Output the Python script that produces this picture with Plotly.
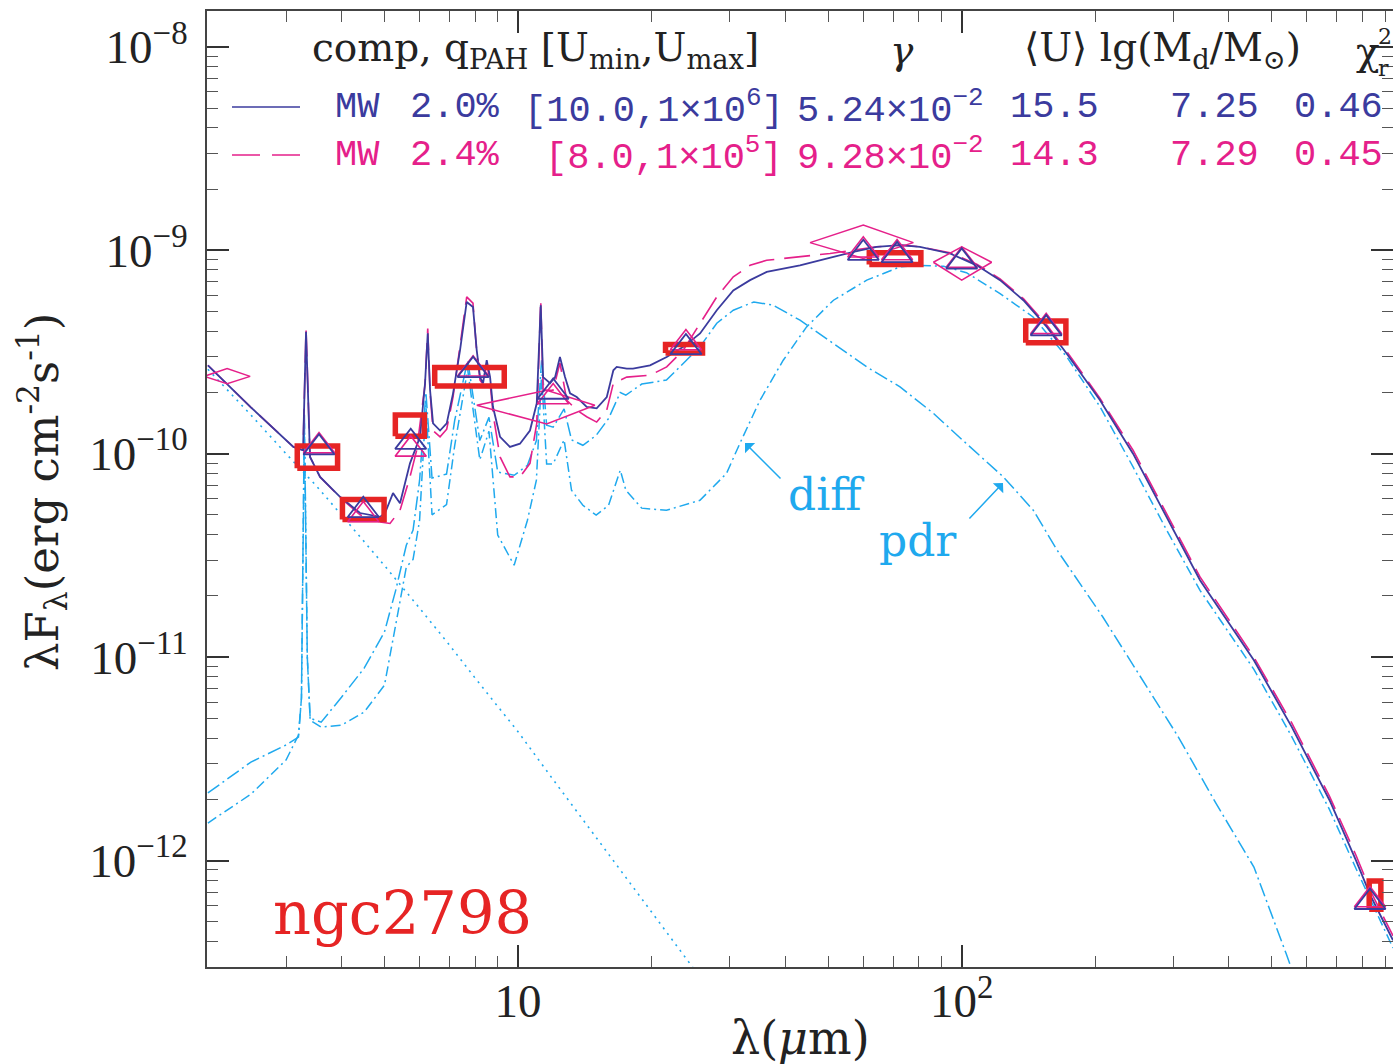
import plotly.graph_objects as go

# ---------------- data ----------------
# total model 1 (MW, q_PAH 2.0%)
wl_blue = [2.0, 2.5, 3.116, 3.277, 3.328, 3.398, 3.579, 3.97, 4.405, 4.887, 5.015, 5.227, 5.42, 5.708,
           6.014, 6.172, 6.259, 6.335, 6.434, 6.672, 6.907, 7.138, 7.401, 7.662, 7.915, 8.07, 8.21, 8.34,
           8.50, 8.65, 8.78, 9.11, 9.59, 10.1, 10.64, 11.02, 11.25, 11.39, 11.81, 12.12, 12.43, 12.76,
           13.1, 13.56, 14.28, 15.04, 15.85, 16.4, 16.69, 17.58, 18.16, 19.84, 21.63, 23.58, 25.72,
           28.05, 30.56, 33.34, 36.35, 43.2, 51.4, 57.0, 64.3, 72.6, 80.5, 94.1, 108.1, 122, 137.7,
           155.5, 172.5, 205, 243.3, 289.7, 344.4, 455.5, 554.3, 674.5, 774.1, 836.6, 937.7]
flux_blue = [2.72e-10, 1.69e-10, 1.08e-10, 1.04e-10, 3.97e-10, 9.64e-11, 7.69e-11, 6.14e-11, 5.11e-11,
             4.89e-11, 5.11e-11, 6.40e-11, 5.71e-11, 8.97e-11, 1.21e-10, 2.22e-10, 3.91e-10, 2.05e-10,
             1.41e-10, 1.30e-10, 1.41e-10, 1.98e-10, 3.23e-10, 5.57e-10, 5.26e-10, 3.23e-10, 2.38e-10,
             2.22e-10, 2.88e-10, 2.38e-10, 1.70e-10, 1.21e-10, 1.08e-10, 1.12e-10, 1.30e-10, 1.77e-10,
             5.37e-10, 2.38e-10, 2.22e-10, 2.38e-10, 2.99e-10, 2.38e-10, 1.98e-10, 1.90e-10, 1.70e-10,
             1.67e-10, 1.90e-10, 2.57e-10, 2.67e-10, 2.62e-10, 2.62e-10, 2.72e-10, 2.99e-10, 3.35e-10,
             3.90e-10, 5.07e-10, 6.35e-10, 7.13e-10, 7.82e-10, 8.43e-10, 9.27e-10, 9.82e-10, 1.04e-9,
             1.06e-9, 1.04e-9, 9.64e-10, 8.43e-10, 7.13e-10, 5.68e-10, 4.20e-10, 3.10e-10, 1.83e-10,
             1.00e-10, 4.89e-11, 2.39e-11, 9.66e-12, 4.54e-12, 1.98e-12, 1.00e-12, 6.64e-13, 4.06e-13]

# total model 2 (MW, q_PAH 2.4%)
wl_pink = [2.0, 2.5, 3.116, 3.277, 3.328, 3.398, 3.579, 3.97, 4.405, 4.887, 5.146, 5.42, 5.708, 5.91,
           6.172, 6.259, 6.335, 6.434, 6.672, 6.907, 7.138, 7.401, 7.662, 7.915, 8.07, 8.21, 8.34, 8.50,
           8.65, 8.78, 9.11, 9.59, 10.1, 10.64, 11.02, 11.25, 11.39, 11.99, 12.43, 12.88, 13.56, 14.28,
           15.04, 15.85, 16.4, 17.58, 19.84, 21.63, 23.58, 25.72, 28.05, 30.56, 33.34, 36.35, 43.2,
           50.5, 57.0, 64.3, 72.6, 80.5, 94.1, 108.1, 122, 137.7, 155.5, 172.5, 205, 243.3, 289.7,
           344.4, 455.5, 554.3, 674.5, 774.1, 836.6, 937.7]
flux_pink = [2.72e-10, 1.69e-10, 1.08e-10, 1.04e-10, 4.12e-10, 9.64e-11, 7.69e-11, 6.10e-11, 5.01e-11,
             4.62e-11, 4.54e-11, 5.27e-11, 7.69e-11, 1.04e-10, 2.19e-10, 4.12e-10, 2.00e-10, 1.30e-10,
             1.21e-10, 1.32e-10, 1.90e-10, 3.31e-10, 5.90e-10, 5.50e-10, 3.16e-10, 2.30e-10, 2.19e-10,
             2.79e-10, 2.24e-10, 1.58e-10, 9.64e-11, 7.69e-11, 7.69e-11, 8.97e-11, 1.41e-10, 5.68e-10,
             2.05e-10, 2.05e-10, 2.79e-10, 1.83e-10, 1.64e-10, 1.52e-10, 1.43e-10, 1.64e-10, 2.22e-10,
             2.38e-10, 2.43e-10, 2.67e-10, 3.23e-10, 4.37e-10, 5.90e-10, 7.40e-10, 8.43e-10, 8.93e-10,
             9.27e-10, 9.64e-10, 1.00e-9, 1.04e-9, 1.06e-9, 1.04e-9, 9.73e-10, 8.55e-10, 7.24e-10,
             5.78e-10, 4.29e-10, 3.18e-10, 1.87e-10, 1.04e-10, 5.06e-11, 2.48e-11, 1.00e-11, 4.75e-12,
             2.07e-12, 1.06e-12, 7.00e-13, 4.27e-13]

# stellar component
wl_star = [2.0, 2.5, 3.0, 3.5, 4.0, 4.5, 5.0, 6.0, 7.0, 8.0, 10, 12, 15, 20, 25, 30]
flux_star = [2.60e-10, 1.55e-10, 1.00e-10, 7.0e-11, 5.0e-11, 3.7e-11, 2.82e-11, 1.74e-11, 1.15e-11,
             7.9e-12, 4.3e-12, 2.5e-12, 1.30e-12, 5.6e-13, 2.9e-13, 1.7e-13]

# diffuse-ISM dust component
wl_diff = [2.0, 2.5, 3.0, 3.2, 3.25, 3.3, 3.35, 3.4, 3.6, 4.0, 4.5, 5.0, 5.3, 5.6, 5.8, 6.0, 6.2, 6.4,
           6.9, 7.2, 7.7, 8.2, 8.6, 9.0, 9.8, 10.5, 11.0, 11.3, 11.6, 12.0, 12.7, 13.2, 14, 15, 16, 17,
           17.5, 19, 21.6, 25.7, 29.5, 31.6, 35.1, 39.6, 44.7, 51.4, 61.1, 72.6, 80.5, 91, 102.5, 122,
           144.8, 172.5, 205, 243.3, 289.7, 344.4, 455.5, 554.3, 674.5, 774.1, 937.7]
flux_diff = [1.53e-12, 2.12e-12, 3.12e-12, 4.14e-12, 6.3e-12, 1.41e-10, 1.0e-11, 4.90e-12, 4.53e-12,
             4.63e-12, 5.37e-12, 7.28e-12, 1.44e-11, 2.77e-11, 3.02e-11, 4.71e-11, 1.74e-10, 5.01e-11,
             5.62e-11, 1.10e-10, 2.60e-10, 9.33e-11, 1.29e-10, 3.98e-11, 2.83e-11, 4.71e-11, 7.41e-11,
             2.45e-10, 8.91e-11, 8.91e-11, 1.17e-10, 6.61e-11, 5.58e-11, 4.99e-11, 5.58e-11, 8.30e-11,
             6.61e-11, 5.40e-11, 5.27e-11, 5.90e-11, 8.0e-11, 1.12e-10, 1.83e-10, 2.88e-10, 4.20e-10,
             5.68e-10, 7.13e-10, 8.28e-10, 8.43e-10, 8.34e-10, 7.76e-10, 6.12e-10, 4.70e-10, 2.99e-10,
             1.70e-10, 8.61e-11, 4.21e-11, 2.13e-11, 8.71e-12, 4.07e-12, 1.78e-12, 9.12e-13, 3.72e-13]

# PDR dust component
wl_pdr = [2.0, 2.5, 3.0, 3.2, 3.25, 3.3, 3.35, 3.4, 3.6, 4.0, 4.5, 5.0, 5.3, 5.6, 5.8, 6.0, 6.2, 6.4,
          6.9, 7.2, 7.7, 8.2, 8.6, 9.0, 9.8, 10.5, 11.0, 11.3, 11.6, 12.0, 12.7, 13.2, 14, 15, 16, 17,
          17.5, 19, 21.6, 25.7, 28.05, 30.56, 34.0, 37.6, 43.2, 51.4, 61.1, 72.6, 86.3, 102.5, 124.1,
          145, 164, 207.8, 252.7, 307.6, 374.2, 455.5, 538.2, 600]
flux_pdr = [2.15e-12, 3.05e-12, 3.70e-12, 4.05e-12, 6.3e-12, 1.58e-10, 1.0e-11, 5.01e-12, 4.79e-12,
            6.35e-12, 8.83e-12, 1.33e-11, 2.13e-11, 3.55e-11, 4.21e-11, 7.41e-11, 2.00e-10, 7.59e-11,
            7.94e-11, 1.46e-10, 2.88e-10, 1.16e-10, 1.51e-10, 8.13e-11, 7.83e-11, 8.77e-11, 1.16e-10,
            2.88e-10, 1.38e-10, 1.35e-10, 1.66e-10, 1.17e-10, 1.10e-10, 1.23e-10, 1.49e-10, 2.00e-10,
            1.94e-10, 2.20e-10, 2.30e-10, 3.35e-10, 4.38e-10, 5.07e-10, 5.57e-10, 5.37e-10, 4.53e-10,
            3.48e-10, 2.67e-10, 2.13e-10, 1.58e-10, 1.12e-10, 7.69e-11, 5.27e-11, 3.36e-11, 1.58e-11,
            8.0e-12, 4.06e-12, 1.91e-12, 9.3e-13, 3.5e-13, 1.8e-13]

# observed photometry (boxes): band edges and flux range
obs_band_lo = [3.18, 4.02, 5.29, 6.49, 21.5, 61.9, 139.4, 828.6]
obs_band_hi = [3.92, 4.99, 6.15, 9.31, 26.05, 80.9, 171.7, 880.3]
obs_flux_lo = [8.48e-11, 4.75e-11, 1.22e-10, 2.15e-10, 3.13e-10, 8.51e-10, 3.51e-10, 5.77e-13]
obs_flux_hi = [1.09e-10, 5.96e-11, 1.55e-10, 2.65e-10, 3.44e-10, 9.72e-10, 4.49e-10, 7.94e-13]

# other photometry (diamonds): band edges, centre, flux and range
dia_band_lo = [1.96, 8.07, 45.5, 86.3]
dia_band_c = [2.21, 11.6, 60.0, 100.0]
dia_band_hi = [2.49, 14.9, 77.8, 116.8]
dia_flux = [2.40e-10, 1.73e-10, 1.09e-9, 8.73e-10]
dia_flux_lo = [2.21e-10, 1.40e-10, 9.12e-10, 7.13e-10]
dia_flux_hi = [2.62e-10, 2.05e-10, 1.33e-9, 1.04e-9]

# model band fluxes (triangles)
tri_wl = [3.56, 4.48, 5.73, 7.92, 12.0, 23.9, 60.0, 71.5, 100.0, 155.0, 832.0]
tri_blue = [1.07e-10, 5.27e-11, 1.14e-10, 2.57e-10, 2.01e-10, 3.33e-10, 9.68e-10, 9.44e-10, 8.77e-10,
            4.12e-10, 6.24e-13]
tri_pink = [1.09e-10, 5.00e-11, 1.05e-10, 2.60e-10, 1.90e-10, 3.50e-10, 1.00e-9, 9.70e-10, 8.90e-10,
            4.20e-10, 6.40e-13]

# legend table
hdr_texts = ["comp, q<sub>PAH</sub> [U<sub>min</sub>,U<sub>max</sub>]", "<i>γ</i>",
             "⟨U⟩ lg(M<sub>d</sub>/M<sub>⊙</sub>)", "χ", "2", "r"]
row1 = ["MW", "2.0%", "[10.0,1×10<sup>6</sup>]", "5.24×10<sup>−2</sup>", "15.5", "7.25", "0.46"]
row2 = ["MW", "2.4%", "[8.0,1×10<sup>5</sup>]", "9.28×10<sup>−2</sup>", "14.3", "7.29", "0.45"]

x_tickvals = [10, 100]
x_ticktext = ["10", "10<sup>2</sup>"]
y_tickvals = [1e-12, 1e-11, 1e-10, 1e-9, 1e-8]
y_ticktext = ["10<sup>−12</sup>", "10<sup>−11</sup>", "10<sup>−10</sup>", "10<sup>−9</sup>", "10<sup>−8</sup>"]

# ---------------- styling / layout ----------------
W, H = 1393, 1064
ML, MR, MT, MB = 207, 0, 11, 97
PW, PH = W - ML - MR, H - MT - MB

BLUE = "#3b3b9e"
PINK = "#e5208a"
CYAN = "#1fa9ee"
RED = "#e62424"
SERIF = "Liberation Serif"
WIDE_SERIF = "DejaVu Serif"
MONO = "Liberation Mono"


def px(X):
    return (X - ML) / PW


def py(Y):
    return (MT + PH - Y) / PH


fig = go.Figure()

# components
fig.add_trace(go.Scatter(x=wl_star, y=flux_star, mode="lines",
                         line=dict(color=CYAN, width=1.6, dash="2px,5px"), hoverinfo="skip"))
fig.add_trace(go.Scatter(x=wl_diff, y=flux_diff, mode="lines",
                         line=dict(color=CYAN, width=1.5, dash="10px,4px,2px,4px"), hoverinfo="skip"))
fig.add_trace(go.Scatter(x=wl_pdr, y=flux_pdr, mode="lines",
                         line=dict(color=CYAN, width=1.5, dash="14px,4px,2px,4px"), hoverinfo="skip"))
# totals
fig.add_trace(go.Scatter(x=wl_pink, y=flux_pink, mode="lines",
                         line=dict(color=PINK, width=1.6, dash="26px,10px"), hoverinfo="skip"))
fig.add_trace(go.Scatter(x=wl_blue, y=flux_blue, mode="lines",
                         line=dict(color=BLUE, width=1.8), hoverinfo="skip"))

# diamonds
dx, dy = [], []
for lo, c, hi, f, flo, fhi in zip(dia_band_lo, dia_band_c, dia_band_hi, dia_flux, dia_flux_lo, dia_flux_hi):
    dx += [lo, c, hi, c, lo, None]
    dy += [f, fhi, f, flo, f, None]
fig.add_trace(go.Scatter(x=dx, y=dy, mode="lines", line=dict(color=PINK, width=1.5),
                         hoverinfo="skip"))

# observed boxes
bx, by = [], []
for lo, hi, flo, fhi in zip(obs_band_lo, obs_band_hi, obs_flux_lo, obs_flux_hi):
    bx += [lo, hi, hi, lo, lo, None]
    by += [flo, flo, fhi, fhi, flo, None]
fig.add_trace(go.Scatter(x=bx, y=by, mode="lines", line=dict(color=RED, width=5.5),
                         hoverinfo="skip"))

# triangles
fig.add_trace(go.Scatter(x=tri_wl, y=tri_pink, mode="markers",
                         marker=dict(symbol="triangle-up-open", size=27, color=PINK,
                                     line=dict(width=1.6, color=PINK)), hoverinfo="skip"))
fig.add_trace(go.Scatter(x=tri_wl, y=tri_blue, mode="markers",
                         marker=dict(symbol="triangle-up-open", size=27, color=BLUE,
                                     line=dict(width=1.8, color=BLUE)), hoverinfo="skip"))

axis_common = dict(
    type="log", showgrid=False, zeroline=False, showline=True, linecolor="#444", linewidth=2,
    mirror="ticks", ticks="inside", tickcolor="#333", tickwidth=1.6, ticklen=22,
    tickfont=dict(family=SERIF, size=47, color="#222"), automargin=False,
)

x_minor = [2, 3, 4, 5, 6, 7, 8, 9, 20, 30, 40, 50, 60, 70, 80, 90, 200, 300, 400, 500, 600, 700, 800, 900]
y_minor = []
for dec in [1e-13, 1e-12, 1e-11, 1e-10, 1e-9, 1e-8]:
    for m in range(2, 10):
        y_minor.append(m * dec)

fig.update_xaxes(**axis_common, range=[0.299, 2.972], tickmode="array", tickvals=x_tickvals,
                 ticktext=x_ticktext, ticklabelstandoff=-8,
                 minor=dict(tickmode="array", tickvals=x_minor, ticks="inside", ticklen=11,
                            tickcolor="#555", tickwidth=1.4, showgrid=False))
fig.update_yaxes(**axis_common, range=[-12.523, -7.824], tickmode="array", tickvals=y_tickvals,
                 ticktext=y_ticktext, ticklabelstandoff=8,
                 minor=dict(tickmode="array", tickvals=y_minor, ticks="inside", ticklen=11,
                            tickcolor="#555", tickwidth=1.4, showgrid=False))

ann = []


def text(X, Y, s, size, color, family, xanchor="left", angle=0):
    ann.append(dict(x=px(X), y=py(Y), xref="paper", yref="paper", text=s, showarrow=False,
                    xanchor=xanchor, yanchor="middle", textangle=angle,
                    font=dict(size=size, color=color, family=family)))


# header
text(310, 50, hdr_texts[0], 39, "#222", WIDE_SERIF)
text(902, 50, hdr_texts[1], 39, "#222", WIDE_SERIF, xanchor="center")
text(1022, 50, hdr_texts[2], 39, "#222", WIDE_SERIF)
text(1354, 52, hdr_texts[3], 39, "#222", WIDE_SERIF)
text(1376, 36, hdr_texts[4], 22, "#222", WIDE_SERIF)
text(1376, 68, hdr_texts[5], 22, "#222", WIDE_SERIF)

row_x = [333, 408, 522, 795, 1008, 1168, 1292]
row2_x = [333, 408, 543, 795, 1008, 1168, 1292]
for X, s in zip(row_x, row1):
    text(X, 107, s, 37, BLUE, MONO)
for X, s in zip(row2_x, row2):
    text(X, 155, s, 37, PINK, MONO)

# legend line keys
shapes = [
    dict(type="line", xref="paper", yref="paper", x0=px(232), x1=px(300), y0=py(107), y1=py(107),
         line=dict(color=BLUE, width=1.6)),
    dict(type="line", xref="paper", yref="paper", x0=px(232), x1=px(300), y0=py(155), y1=py(155),
         line=dict(color=PINK, width=1.6, dash="28px,12px")),
]

# galaxy name
text(402, 913, "ngc2798", 59, RED, WIDE_SERIF, xanchor="center")

# component labels with arrows
text(826, 495, "diff", 44, CYAN, WIDE_SERIF, xanchor="center")
text(918, 540, "pdr", 44, CYAN, WIDE_SERIF, xanchor="center")
ann.append(dict(x=px(745), y=py(443), xref="paper", yref="paper", ax=37, ay=37, axref="pixel",
                ayref="pixel", text="", showarrow=True, arrowhead=1, arrowsize=1.6, arrowwidth=1.5,
                arrowcolor=CYAN))
ann.append(dict(x=px(1003), y=py(483), xref="paper", yref="paper", ax=-35, ay=37, axref="pixel",
                ayref="pixel", text="", showarrow=True, arrowhead=1, arrowsize=1.6, arrowwidth=1.5,
                arrowcolor=CYAN))

# axis titles
text(800, 1038, "λ(<i>μ</i>m)", 46, "#222", WIDE_SERIF, xanchor="center")
text(42, 492, "λF<sub>λ</sub>(erg cm<sup>-2</sup>s<sup>-1</sup>)", 45, "#222", WIDE_SERIF,
     xanchor="center", angle=-90)

fig.update_layout(
    width=W, height=H, margin=dict(l=ML, r=MR, t=MT, b=MB),
    paper_bgcolor="white", plot_bgcolor="white", showlegend=False,
    annotations=ann, shapes=shapes,
)

fig.write_html("out.html", config={"displayModeBar": False},
               post_script="document.body.style.margin='0px';")
